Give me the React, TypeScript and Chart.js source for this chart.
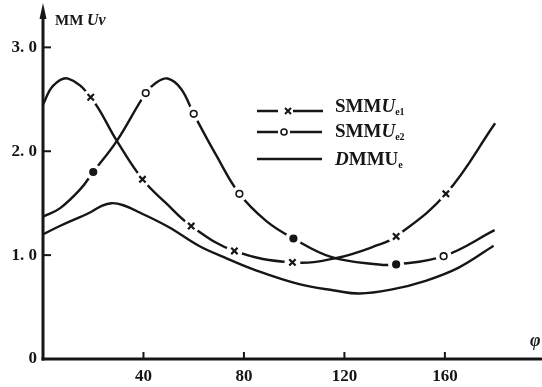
import { useEffect, useRef } from "react";
import { Chart, registerables } from "chart.js";

Chart.register(...registerables);

// axis ticks
const xTicks = [40, 80, 120, 160];
const yTicks = [0, 1, 2, 3];
const yTickLabels = ["0", "1. 0", "2. 0", "3. 0"];

// SMMU_e1 curve
const e1X = [0, 4, 10, 19, 29.4, 39.6, 49, 59, 76.2, 99.3, 116.5, 133.7, 140.6, 160.4, 180];
const e1Y = [2.45, 2.63, 2.7, 2.52, 2.1, 1.73, 1.5, 1.28, 1.04, 0.93, 0.97, 1.1, 1.18, 1.59, 2.27];
const e1MarkX = [19, 39.6, 59, 76.2, 99.3, 140.6, 160.4];
const e1MarkY = [2.52, 1.73, 1.28, 1.04, 0.93, 1.18, 1.59];

// SMMU_e2 curve
const e2X = [0, 6.7, 14.7, 20, 29.4, 40.9, 45, 49.6, 55, 60, 69, 78.2, 88.8, 99.7, 115, 133.7, 140.6, 159.5, 179.8];
const e2Y = [1.37, 1.45, 1.63, 1.8, 2.1, 2.56, 2.66, 2.7, 2.6, 2.36, 1.96, 1.59, 1.33, 1.16, 0.98, 0.91, 0.91, 0.99, 1.24];
const e2MarkX = [20, 40.9, 60, 78.2, 99.7, 140.6, 159.5];
const e2MarkY = [1.8, 2.56, 2.36, 1.59, 1.16, 0.91, 0.99];
const e2MarkFilled = [true, false, false, false, true, true, false];

// DMMU_e curve
const dX = [0, 6.7, 18.7, 23, 27.3, 32, 38.5, 50, 62, 72, 84, 102, 116, 126, 139, 152, 165.5, 179.4];
const dY = [1.2, 1.28, 1.41, 1.47, 1.5, 1.48, 1.41, 1.27, 1.09, 0.98, 0.86, 0.72, 0.66, 0.63, 0.67, 0.75, 0.88, 1.09];

const INK = "#161616";
const SERIF = "'Liberation Serif', 'DejaVu Serif', serif";
const MARKER_SETS = [3, 4]; // dataset indexes of the marker series

const pts = (xs: number[], ys: number[]) => xs.map((x, i) => ({ x, y: ys[i] }));

function drawRich(ctx: CanvasRenderingContext2D, x: number, y: number, parts: [string, string, number][]) {
  let cx = x;
  for (const [text, font, dy] of parts) {
    ctx.font = font;
    ctx.fillText(text, cx, y + dy);
    cx += ctx.measureText(text).width;
  }
}

const decor = {
  id: "decor",
  beforeDatasetDraw(chart: any, args: any) {
    // white gaps in the curves around each marker
    if (!MARKER_SETS.includes(args.index)) return;
    const { ctx } = chart;
    const meta = chart.getDatasetMeta(args.index);
    ctx.save();
    ctx.fillStyle = "#ffffff";
    for (const el of meta.data) {
      ctx.beginPath();
      ctx.arc(el.x, el.y, 8, 0, Math.PI * 2);
      ctx.fill();
    }
    ctx.restore();
  },
  afterDraw(chart: any) {
    const { ctx, scales } = chart;
    const xs = scales.x;
    const ys = scales.y;
    const x0 = xs.getPixelForValue(0);
    const y0 = ys.getPixelForValue(0);
    ctx.save();
    ctx.strokeStyle = INK;
    ctx.fillStyle = INK;
    ctx.lineWidth = 3;
    ctx.lineCap = "butt";
    // y axis with arrow
    ctx.beginPath();
    ctx.moveTo(x0, y0 + 1.5);
    ctx.lineTo(x0, 14);
    ctx.stroke();
    ctx.beginPath();
    ctx.moveTo(x0, 3);
    ctx.lineTo(x0 - 3.5, 19);
    ctx.lineTo(x0 + 3.5, 19);
    ctx.closePath();
    ctx.fill();
    // x axis
    ctx.beginPath();
    ctx.moveTo(x0 - 1.5, y0);
    ctx.lineTo(chart.width, y0);
    ctx.stroke();
    // tick marks (inward)
    ctx.lineWidth = 2;
    for (const v of yTicks) {
      if (v === 0) continue;
      const py = ys.getPixelForValue(v);
      ctx.beginPath();
      ctx.moveTo(x0, py);
      ctx.lineTo(x0 + 8, py);
      ctx.stroke();
    }
    for (const v of xTicks) {
      const px = xs.getPixelForValue(v);
      ctx.beginPath();
      ctx.moveTo(px, y0);
      ctx.lineTo(px, y0 - 7);
      ctx.stroke();
    }
    // axis titles
    ctx.textBaseline = "alphabetic";
    ctx.textAlign = "left";
    drawRich(ctx, 55, 25, [
      ["MM ", `bold 15px ${SERIF}`, 0],
      ["Uv", `italic bold 16px ${SERIF}`, 0],
    ]);
    ctx.font = `italic bold 18px ${SERIF}`;
    ctx.fillText("φ", 530, 346);

    // legend
    ctx.lineWidth = 2.4;
    // row 1
    ctx.beginPath();
    ctx.moveTo(257, 111);
    ctx.lineTo(278, 111);
    ctx.moveTo(293, 111);
    ctx.lineTo(323, 111);
    ctx.stroke();
    ctx.lineWidth = 2;
    ctx.beginPath();
    ctx.moveTo(285, 108);
    ctx.lineTo(291, 114);
    ctx.moveTo(291, 108);
    ctx.lineTo(285, 114);
    ctx.stroke();
    // row 2
    ctx.lineWidth = 2.4;
    ctx.beginPath();
    ctx.moveTo(257, 132);
    ctx.lineTo(278, 132);
    ctx.moveTo(290, 132);
    ctx.lineTo(322, 132);
    ctx.stroke();
    ctx.lineWidth = 1.6;
    ctx.beginPath();
    ctx.arc(284, 132, 3, 0, Math.PI * 2);
    ctx.fillStyle = "#fff";
    ctx.fill();
    ctx.stroke();
    ctx.fillStyle = INK;
    // row 3
    ctx.lineWidth = 2.4;
    ctx.beginPath();
    ctx.moveTo(257, 159);
    ctx.lineTo(322, 159);
    ctx.stroke();

    const B = `bold 19px ${SERIF}`;
    const BI = `italic bold 19px ${SERIF}`;
    const SUB = `bold 10px ${SERIF}`;
    drawRich(ctx, 335, 112, [["SMM", B, 0], ["U", BI, 0], ["e1", SUB, 3]]);
    drawRich(ctx, 335, 137, [["SMM", B, 0], ["U", BI, 0], ["e2", SUB, 3]]);
    drawRich(ctx, 335, 165, [["D", BI, 0], ["MMU", B, 0], ["e", SUB, 3]]);
    ctx.restore();
  },
};

export default function App() {
  const ref = useRef<HTMLCanvasElement | null>(null);

  useEffect(() => {
    if (!ref.current) return;
    const lineDs = (label: string, data: any[]) => ({
      type: "line" as const,
      label,
      data,
      borderColor: INK,
      borderWidth: 2.4,
      pointRadius: 0,
      fill: false,
      tension: 0.4,
      order: 3,
    });
    const chart = new Chart(ref.current, {
      type: "line",
      data: {
        datasets: [
          lineDs("SMMU e1", pts(e1X, e1Y)),
          lineDs("SMMU e2", pts(e2X, e2Y)),
          lineDs("DMMU e", pts(dX, dY)),
          {
            type: "scatter",
            label: "SMMU e1 markers",
            data: pts(e1MarkX, e1MarkY),
            pointStyle: "crossRot",
            pointRadius: 4.5,
            pointBorderWidth: 2.2,
            pointBorderColor: INK,
            showLine: false,
            order: 1,
          } as any,
          {
            type: "scatter",
            label: "SMMU e2 markers",
            data: pts(e2MarkX, e2MarkY),
            pointStyle: "circle",
            pointRadius: 3.3,
            pointBorderWidth: 1.6,
            pointBorderColor: INK,
            pointBackgroundColor: e2MarkFilled.map((f) => (f ? INK : "#ffffff")),
            showLine: false,
            order: 1,
          } as any,
        ],
      },
      options: {
        animation: false,
        responsive: false,
        layout: { padding: { top: 12, right: 4, left: 0, bottom: 0 } },
        plugins: { legend: { display: false }, tooltip: { enabled: false } },
        scales: {
          x: {
            type: "linear",
            min: 0,
            max: 196,
            grid: { display: false, drawTicks: false },
            border: { display: false },
            afterBuildTicks: (s: any) => {
              s.ticks = xTicks.map((v) => ({ value: v }));
            },
            afterFit: (s: any) => {
              s.height = 28;
            },
            ticks: {
              padding: 7,
              color: INK,
              font: { family: SERIF, size: 17, weight: "bold" },
              maxRotation: 0,
              callback: (v: any) => String(v),
            },
          },
          y: {
            type: "linear",
            min: 0,
            max: 3.3,
            grid: { display: false, drawTicks: false },
            border: { display: false },
            afterBuildTicks: (s: any) => {
              s.ticks = yTicks.map((v) => ({ value: v }));
            },
            afterFit: (s: any) => {
              s.width = 43;
            },
            ticks: {
              padding: 6,
              color: INK,
              font: { family: SERIF, size: 17, weight: "bold" },
              callback: (v: any) => {
                const i = yTicks.indexOf(Number(v));
                return i >= 0 ? yTickLabels[i] : "";
              },
            },
          },
        },
      },
      plugins: [decor],
    } as any);
    return () => chart.destroy();
  }, []);

  return (
    <div style={{ position: "absolute", left: 0, top: 0, width: 542, height: 387, background: "#fff" }}>
      <canvas ref={ref} width={542} height={387} style={{ display: "block" }} />
    </div>
  );
}
